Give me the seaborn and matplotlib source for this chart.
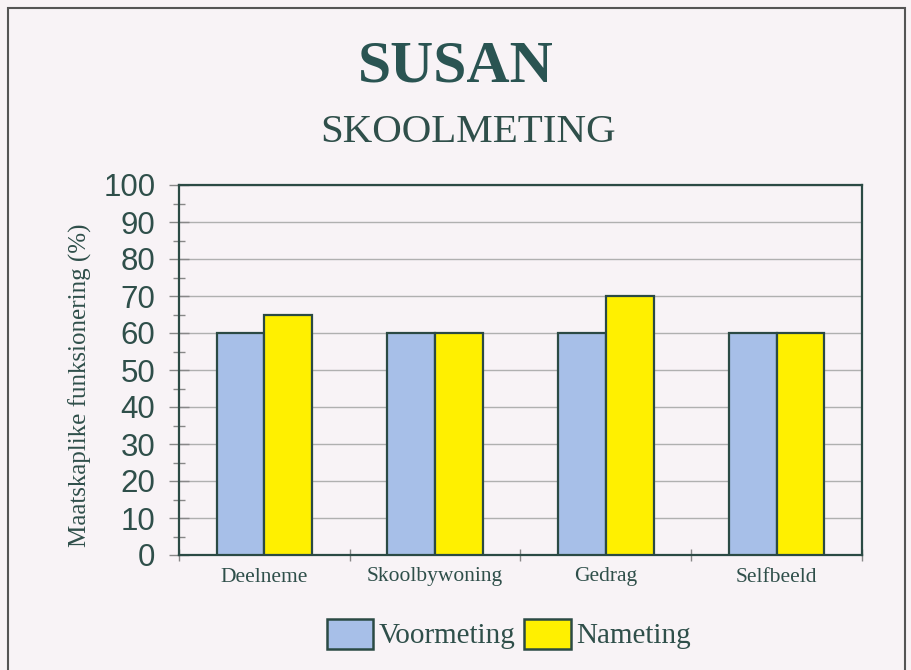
import numpy as np
import pandas as pd
import seaborn as sns
import matplotlib.pyplot as plt
from matplotlib.patches import Rectangle, Patch
from matplotlib.ticker import MultipleLocator, FixedLocator

# data
categories = ["Deelneme", "Skoolbywoning", "Gedrag", "Selfbeeld"]
voormeting = [60, 60, 60, 60]
nameting = [65, 60, 70, 60]
series = ["Voormeting", "Nameting"]

df = pd.DataFrame({
    "Kategorie": categories * 2,
    "Waarde": voormeting + nameting,
    "Meting": [series[0]] * len(categories) + [series[1]] * len(categories),
})

bg = "#f8f3f6"
edge = "#2b4a44"
txt = "#2f4f4a"
colors = ["#a7bfe8", "#fff000"]

sns.set_style("white")
plt.rcParams["font.family"] = ["Liberation Serif", "DejaVu Serif"]

fig = plt.figure(figsize=(9.12, 6.7), dpi=100, facecolor=bg)
ax = fig.add_axes([179 / 912, 1 - 555 / 670, (862 - 179) / 912, (555 - 185) / 670])
ax.set_facecolor(bg)

sns.barplot(data=df, x="Kategorie", y="Waarde", hue="Meting", palette=colors,
            saturation=1, width=0.56, edgecolor=edge, linewidth=1.6, ax=ax,
            legend=False, zorder=3)

ax.set_ylim(0, 100)
ax.set_xlim(-0.5, 3.5)
ax.yaxis.set_major_locator(MultipleLocator(10))
ax.yaxis.set_minor_locator(MultipleLocator(5))
ax.grid(axis="y", which="major", color="#b0b0b0", linewidth=1.0, zorder=0)
ax.set_axisbelow(True)

for s in ax.spines.values():
    s.set_color(edge)
    s.set_linewidth(1.6)
    s.set_visible(True)

ax.tick_params(axis="y", which="major", left=True, direction="inout", length=14, width=1,
               color="#888888", labelsize=22.5, labelcolor=txt, pad=10)
ax.tick_params(axis="y", which="minor", left=True, direction="inout", length=8, width=1,
               color="#888888")
for lab in ax.get_yticklabels():
    lab.set_family(["Liberation Sans", "DejaVu Sans"])

ax.xaxis.set_minor_locator(FixedLocator([-0.5, 0.5, 1.5, 2.5, 3.5]))
ax.tick_params(axis="x", which="major", bottom=False, length=0, labelsize=15.5,
               labelcolor=txt, pad=9)
ax.tick_params(axis="x", which="minor", bottom=True, direction="inout", length=8, width=1,
               color="#888888")

ax.set_xlabel("")
ax.set_ylabel("Maatskaplike funksionering (%)", fontsize=18, color=txt)
ax.yaxis.set_label_coords(-0.127, 0.46)

fig.text(0.5, 1 - 67 / 670, "SUSAN", ha="center", va="center", fontsize=43,
         fontweight="bold", color="#2a5452")
fig.text(468 / 912, 1 - 133 / 670, "SKOOLMETING", ha="center", va="center", fontsize=29.5,
         color=txt)

handles = [Patch(facecolor=colors[i], edgecolor=edge, linewidth=1.8, label=series[i])
           for i in range(2)]
fig.legend(handles=handles, loc="center", bbox_to_anchor=(509 / 912, 1 - 634 / 670), ncol=2,
           frameon=False, fontsize=21, handlelength=1.58, handleheight=1.2,
           handletextpad=0.2, columnspacing=0.3, labelcolor=txt)

# outer frame around the whole chart
fig.patches.append(Rectangle((8 / 912, -0.01), (905 - 8) / 912, 1 - 8 / 670 + 0.01,
                             transform=fig.transFigure, fill=False,
                             edgecolor="#555555", linewidth=1.5))

fig.savefig("out.png", dpi=100, facecolor=bg)
